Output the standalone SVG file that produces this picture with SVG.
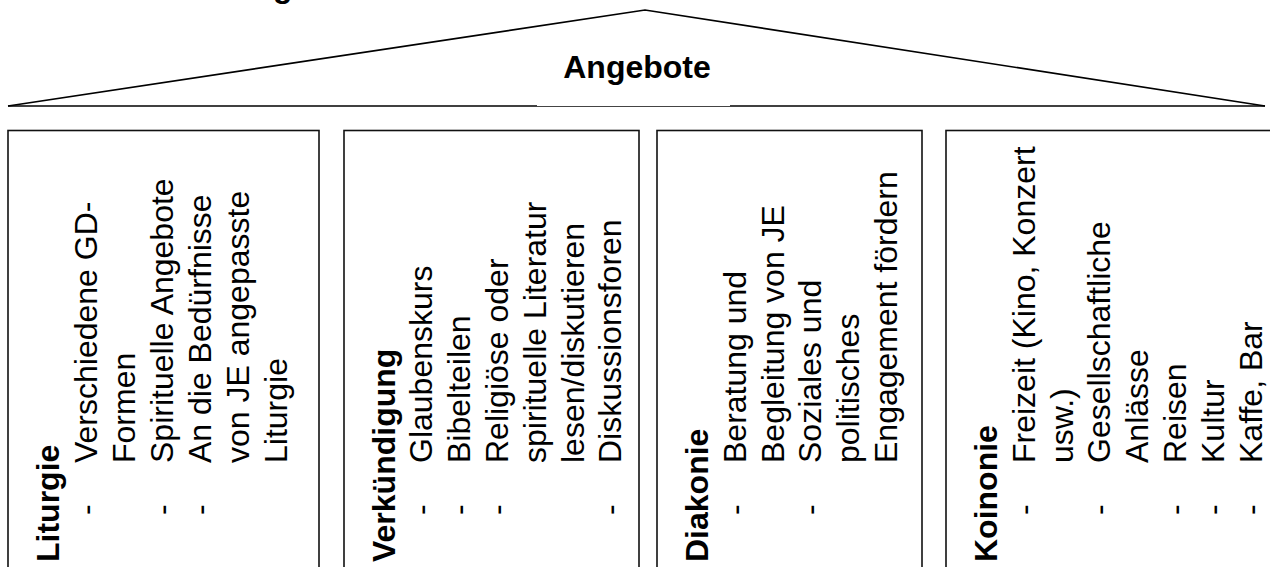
<svg xmlns="http://www.w3.org/2000/svg" width="1270" height="567" viewBox="0 0 1270 567">
<style>
text{font-family:"Liberation Sans",Arial,sans-serif;font-size:32px;fill:#000}
.b{font-weight:bold}
.box{fill:#fff;stroke:#111;stroke-width:1.6}
.roof{fill:none;stroke:#000;stroke-width:1.7}
</style>
<rect width="1270" height="567" fill="#fff"/>
<text class="b" x="273" y="-3">g</text>
<g id="roof">
<polyline class="roof" points="8,106 645,10 1265,106"/>
<line class="roof" x1="8" y1="106" x2="537" y2="106"/>
<line class="roof" x1="730" y1="106" x2="1265" y2="106"/>
<line x1="537" y1="106.5" x2="730" y2="106.5" stroke="#444" stroke-width="1"/>
<text class="b" x="637" y="78" text-anchor="middle">Angebote</text>
</g>
<g id="liturgie">
<rect class="box" x="8" y="130.5" width="311" height="480"/>
<g transform="rotate(-90)">
<text class="b" x="-562" y="59">Liturgie</text>
<text x="-515" y="97">-</text><text x="-463" y="97">Verschiedene GD-</text>
<text x="-463" y="135">Formen</text>
<text x="-515" y="173">-</text><text x="-463" y="173">Spirituelle Angebote</text>
<text x="-515" y="211">-</text><text x="-463" y="211">An die Bedürfnisse</text>
<text x="-463" y="249">von JE angepasste</text>
<text x="-463" y="287">Liturgie</text>
</g>
</g>
<g id="verkuendigung">
<rect class="box" x="344" y="130.5" width="295" height="480"/>
<g transform="rotate(-90)">
<text class="b" x="-562" y="395">Verkündigung</text>
<text x="-515" y="432">-</text><text x="-463" y="432">Glaubenskurs</text>
<text x="-515" y="470">-</text><text x="-463" y="470">Bibelteilen</text>
<text x="-515" y="508">-</text><text x="-463" y="508">Religiöse oder</text>
<text x="-463" y="546">spirituelle Literatur</text>
<text x="-463" y="584">lesen/diskutieren</text>
<text x="-515" y="621">-</text><text x="-463" y="621">Diskussionsforen</text>
</g>
</g>
<g id="diakonie">
<rect class="box" x="657" y="130.5" width="265" height="480"/>
<g transform="rotate(-90)">
<text class="b" x="-562" y="708">Diakonie</text>
<text x="-515" y="746">-</text><text x="-463" y="746">Beratung und</text>
<text x="-463" y="784">Begleitung von JE</text>
<text x="-515" y="821">-</text><text x="-463" y="821">Soziales und</text>
<text x="-463" y="859">politisches</text>
<text x="-463" y="897">Engagement fördern</text>
</g>
</g>
<g id="koinonie">
<rect class="box" x="946" y="130.5" width="350" height="480"/>
<g transform="rotate(-90)">
<text class="b" x="-562" y="997">Koinonie</text>
<text x="-515" y="1035">-</text><text x="-463" y="1035">Freizeit (Kino, Konzert</text>
<text x="-463" y="1073">usw.)</text>
<text x="-515" y="1110">-</text><text x="-463" y="1110">Gesellschaftliche</text>
<text x="-463" y="1148">Anlässe</text>
<text x="-515" y="1186">-</text><text x="-463" y="1186">Reisen</text>
<text x="-515" y="1224">-</text><text x="-463" y="1224">Kultur</text>
<text x="-515" y="1262">-</text><text x="-463" y="1262">Kaffe, Bar</text>
</g>
</g>
<g id="connectors"></g>
</svg>
